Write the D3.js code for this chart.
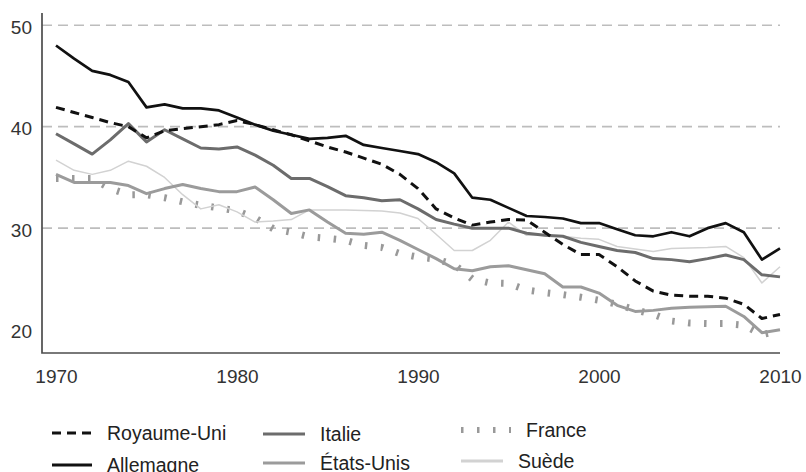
<!DOCTYPE html>
<html>
<head>
<meta charset="utf-8">
<script src="https://cdn.jsdelivr.net/npm/d3@7"></script>
<style>
	body { margin: 0; background: #fff; }
	svg { display: block; font-family: "Liberation Sans", Arial, sans-serif; }
</style>
</head>
<body>
<svg id="chart" width="806" height="472"></svg>
<script>

// years on the x axis
var years = [1970,1971,1972,1973,1974,1975,1976,1977,1978,1979,
	1980,1981,1982,1983,1984,1985,1986,1987,1988,1989,
	1990,1991,1992,1993,1994,1995,1996,1997,1998,1999,
	2000,2001,2002,2003,2004,2005,2006,2007,2008,2009,2010];

// series values
var royaumeUni = [41.9,41.4,40.9,40.4,40.0,38.9,39.6,39.8,40.0,40.2,
	40.6,40.2,39.7,39.2,38.6,38.0,37.5,36.9,36.3,35.3,
	33.9,31.9,31.0,30.3,30.6,30.85,30.8,29.6,28.4,27.4,
	27.4,26.2,24.8,23.8,23.4,23.3,23.3,23.1,22.5,21.1,21.5];

var allemagne = [48.0,46.7,45.5,45.1,44.4,41.9,42.2,41.8,41.8,41.6,
	40.9,40.2,39.6,39.2,38.8,38.9,39.1,38.2,37.9,37.6,
	37.3,36.5,35.4,33.0,32.8,32.0,31.2,31.1,30.95,30.5,
	30.5,29.9,29.3,29.2,29.6,29.2,30.0,30.5,29.6,26.9,28.0];

var italie = [39.3,38.3,37.3,38.7,40.3,38.5,39.7,38.8,37.9,37.8,
	38.0,37.2,36.2,34.9,34.9,34.1,33.2,33.0,32.7,32.8,
	31.9,30.85,30.4,30.0,30.0,30.0,29.5,29.3,29.2,28.6,
	28.2,27.8,27.6,27.0,26.9,26.7,27.0,27.35,26.9,25.4,25.2];

var etatsUnis = [35.3,34.5,34.5,34.5,34.2,33.4,33.9,34.3,33.9,33.6,
	33.6,34.05,32.8,31.45,31.8,30.6,29.5,29.4,29.6,28.8,
	27.9,27.0,26.0,25.8,26.2,26.3,25.9,25.5,24.2,24.2,
	23.6,22.4,21.8,21.9,22.1,22.2,22.25,22.3,21.3,19.7,20.0];

var france = [34.9,34.9,34.9,33.9,33.3,33.3,33.0,32.6,32.25,32.0,
	31.7,31.0,29.95,29.6,29.15,29.0,28.8,28.3,28.1,27.5,
	27.15,26.95,26.4,25.0,24.6,24.55,23.9,23.65,23.45,23.2,
	22.9,22.5,21.95,21.5,20.85,20.65,20.6,20.6,20.45,19.5,19.9];

var suede = [36.7,35.7,35.3,35.7,36.6,36.1,35.0,33.3,31.9,32.3,
	31.6,30.6,30.7,30.85,31.8,31.8,31.8,31.75,31.7,31.5,
	30.95,29.4,27.8,27.8,28.8,30.6,29.3,29.3,29.2,29.0,
	28.9,28.2,27.95,27.7,28.0,28.05,28.1,28.2,27.1,24.6,26.2];

// tick labels
var xTicks = [1970, 1980, 1990, 2000, 2010];
var yTicks = [20, 30, 40, 50];
var gridTicks = [30, 40, 50];


/*
 *	LAYOUT
 */
var frame = { left: 42, right: 780, top: 13, bottom: 353 };

var svg = d3.select("#chart");

var xScale = d3.scaleLinear()
	.domain([1970, 2010])
	.range([56, frame.right]);

var yScale = d3.scaleLinear()
	.domain([17.7, 51.2])
	.range([frame.bottom, frame.top]);

// line styles, drawn light to dark so dark lines sit on top
var styles = {
	"France":      { color: "#999999", width: 7,   dash: "2.5,13.5" },
	"Suède":       { color: "#d2d2d2", width: 1.5, dash: null },
	"États-Unis":  { color: "#9b9b9b", width: 3,   dash: null },
	"Italie":      { color: "#6c6c6c", width: 3,   dash: null },
	"Royaume-Uni": { color: "#111111", width: 3,   dash: "9,6" },
	"Allemagne":   { color: "#111111", width: 2.7, dash: null }
};

var series = [
	{ name: "France",      values: france },
	{ name: "Suède",       values: suede },
	{ name: "États-Unis",  values: etatsUnis },
	{ name: "Italie",      values: italie },
	{ name: "Royaume-Uni", values: royaumeUni },
	{ name: "Allemagne",   values: allemagne }
];


/*
 *	GRID + AXES
 */
svg.append("g").attr("class", "grid")
	.selectAll("line")
	.data(gridTicks).enter()
	.append("line")
		.attr("x1", frame.left)
		.attr("x2", frame.right)
		.attr("y1", function(d){ return yScale(d) })
		.attr("y2", function(d){ return yScale(d) })
		.style("stroke", "#bdbdbd")
		.style("stroke-width", 1.6)
		.style("stroke-dasharray", "10,6");

// y labels
var yAxis = d3.axisLeft(yScale).tickValues(yTicks).tickSize(0).tickPadding(0);
var gy = svg.append("g")
	.attr("class", "y axis")
	.attr("transform", "translate(32,0)")
	.call(yAxis);
gy.select(".domain").remove();
gy.selectAll("text")
	.attr("dy", "0.42em")
	.style("font-family", "'Liberation Sans', Arial, sans-serif")
	.style("font-size", "19px")
	.style("fill", "#333");

// x labels
var xAxis = d3.axisBottom(xScale).tickValues(xTicks).tickFormat(d3.format("d")).tickSize(0).tickPadding(0);
var gx = svg.append("g")
	.attr("class", "x axis")
	.attr("transform", "translate(0,369)")
	.call(xAxis);
gx.select(".domain").remove();
gx.selectAll("text")
	.attr("dy", "0.71em")
	.style("font-family", "'Liberation Sans', Arial, sans-serif")
	.style("font-size", "19px")
	.style("fill", "#333");

// axis lines
svg.append("path")
	.attr("d", "M" + frame.left + "," + frame.top + "V" + frame.bottom + "H" + frame.right)
	.style("fill", "none")
	.style("stroke", "#4d4d4d")
	.style("stroke-width", 1.7);


/*
 *	LINES
 */
var line = d3.line()
	.x(function(d, i){ return xScale(years[i]) })
	.y(function(d){ return yScale(d) });

svg.append("g").attr("class", "lines")
	.selectAll("path")
	.data(series).enter()
	.append("path")
		.attr("d", function(d){ return line(d.values) })
		.style("fill", "none")
		.style("stroke", function(d){ return styles[d.name].color })
		.style("stroke-width", function(d){ return styles[d.name].width })
		.style("stroke-dasharray", function(d){ return styles[d.name].dash })
		.style("stroke-linejoin", "round");


/*
 *	LEGEND
 */
var legendItems = [
	{ name: "Royaume-Uni", x: 52,  y: 433, len: 40 },
	{ name: "Allemagne",   x: 52,  y: 465, len: 40 },
	{ name: "Italie",      x: 263, y: 434, len: 42 },
	{ name: "États-Unis",  x: 263, y: 463, len: 42 },
	{ name: "France",      x: 461, y: 430, len: 50 },
	{ name: "Suède",       x: 461, y: 461, len: 42 }
];

var legend = svg.append("g").attr("class", "legend")
	.selectAll("g")
	.data(legendItems).enter()
	.append("g")
		.attr("transform", function(d){ return "translate(" + d.x + "," + d.y + ")" });

legend.append("line")
	.attr("x1", 0)
	.attr("x2", function(d){ return d.len })
	.style("stroke", function(d){ return styles[d.name].color })
	.style("stroke-width", function(d){ return d.name == "France" ? 6 : 3 })
	.style("stroke-dasharray", function(d){ return styles[d.name].dash });

legend.append("text")
	.text(function(d){ return d.name })
	.attr("x", function(d){ return d.len + 15 })
	.attr("y", 7)
	.style("font-size", "19.5px")
	.style("fill", "#222");

</script>
</body>
</html>
